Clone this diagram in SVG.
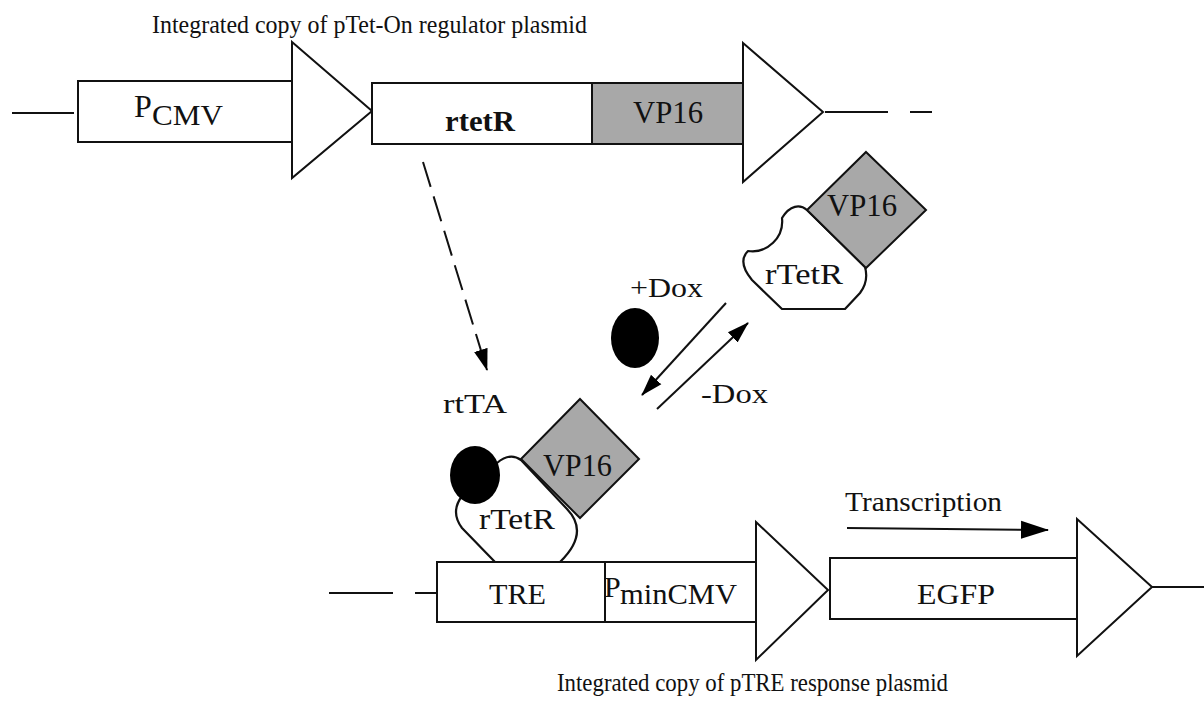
<svg xmlns="http://www.w3.org/2000/svg" width="1204" height="702" viewBox="0 0 1204 702">
<defs>
<style>
.t{font-family:"Liberation Serif","DejaVu Serif",serif;fill:#111;}
.box{fill:#fff;stroke:#111;stroke-width:2;}
.gray{fill:#a8a8a8;stroke:#111;stroke-width:2;}
.tri{fill:#fff;stroke:#111;stroke-width:2;stroke-linejoin:miter;}
.ln{fill:none;stroke:#111;stroke-width:2;}
.prot{fill:#fff;stroke:#111;stroke-width:2.2;stroke-linejoin:round;}
.dox{fill:#000;}
</style>
<marker id="ah" markerUnits="userSpaceOnUse" markerWidth="22" markerHeight="16" refX="21" refY="8" orient="auto">
<path d="M0,1 L22,8 L0,15 Z" fill="#000"/>
</marker>
<marker id="ahT" markerUnits="userSpaceOnUse" markerWidth="28" markerHeight="20" refX="27" refY="10" orient="auto">
<path d="M0,1 L28,10 L0,19 Z" fill="#000"/>
</marker>
</defs>
<rect width="1204" height="702" fill="#fff"/>

<text class="t" x="152" y="33" font-size="26" textLength="435" lengthAdjust="spacingAndGlyphs">Integrated copy of pTet-On regulator plasmid</text>
<text class="t" x="557" y="691" font-size="26" textLength="391" lengthAdjust="spacingAndGlyphs">Integrated copy of pTRE response plasmid</text>

<g id="connectors">
<line class="ln" x1="12" y1="113" x2="74" y2="113"/>
<line class="ln" x1="825" y1="112" x2="888" y2="112"/>
<line class="ln" x1="910" y1="112" x2="932" y2="112"/>
<line class="ln" x1="329" y1="593" x2="393" y2="593"/>
<line class="ln" x1="415" y1="593" x2="437" y2="593"/>
<line class="ln" x1="1152" y1="587" x2="1204" y2="587"/>
<line class="ln" x1="423" y1="162" x2="487" y2="370" stroke-dasharray="26 10" marker-end="url(#ah)"/>
<line class="ln" x1="726" y1="303" x2="642" y2="395" marker-end="url(#ah)"/>
<line class="ln" x1="657" y1="409" x2="748" y2="323" marker-end="url(#ah)"/>
<line class="ln" x1="847" y1="528" x2="1048" y2="530" marker-end="url(#ahT)"/>
</g>

<g id="pcmv">
<rect class="box" x="78" y="81" width="214" height="61"/>
<text class="t" x="134" y="117" font-size="32">P</text>
<text class="t" x="152" y="125" font-size="29" textLength="71" lengthAdjust="spacingAndGlyphs">CMV</text>
</g>
<g id="pcmv-arrow">
<polygon class="tri" points="292,42 372,111 292,178"/>
</g>
<g id="rtetr">
<rect class="box" x="372" y="83" width="220" height="61"/>
<text class="t" x="445" y="131" font-size="30" font-weight="bold" textLength="70" lengthAdjust="spacingAndGlyphs">rtetR</text>
</g>
<g id="vp16-gene">
<rect class="gray" x="592" y="83" width="151" height="61"/>
<text class="t" x="633" y="123" font-size="32" textLength="70" lengthAdjust="spacingAndGlyphs">VP16</text>
</g>
<g id="vp16-arrow">
<polygon class="tri" points="743,43 823,112 743,182"/>
</g>

<g id="free-rtta">
<path class="prot" d="M807,210 C800,204 790,205 782,218 A30,30 0 0 1 748,251 Q737,262 752,280 L782,309 L845,309 L860,293 Q869,281 865,267 Z"/>
<text class="t" x="765" y="284" font-size="30" textLength="78" lengthAdjust="spacingAndGlyphs">rTetR</text>
<polygon class="gray" points="866,152 926,210 866,268 807,210"/>
<text class="t" x="827" y="216" font-size="32" textLength="70" lengthAdjust="spacingAndGlyphs">VP16</text>
</g>

<g id="dox-free">
<ellipse class="dox" cx="635" cy="338" rx="24" ry="30"/>
</g>
<text class="t" x="630" y="297" font-size="28" textLength="73" lengthAdjust="spacingAndGlyphs">+Dox</text>
<text class="t" x="701" y="403" font-size="28" textLength="67" lengthAdjust="spacingAndGlyphs">-Dox</text>

<text class="t" x="443" y="413" font-size="28" textLength="64" lengthAdjust="spacingAndGlyphs">rtTA</text>

<g id="bound-rtta">
<path class="prot" d="M495,562 L462,528 Q450,512 462,496 L497,463 Q510,452 521,460 L567,509 Q590,533 560,562"/>
<text class="t" x="479" y="529" font-size="30" textLength="76" lengthAdjust="spacingAndGlyphs">rTetR</text>
<polygon class="gray" points="580,399 639,459 580,518 521,459"/>
<text class="t" x="543" y="476" font-size="32" textLength="69" lengthAdjust="spacingAndGlyphs">VP16</text>
<ellipse class="dox" cx="475" cy="475" rx="25" ry="29"/>
</g>

<g id="tre">
<rect class="box" x="437" y="562" width="168" height="60"/>
<text class="t" x="489" y="604" font-size="30" textLength="57" lengthAdjust="spacingAndGlyphs">TRE</text>
</g>
<g id="pmincmv">
<rect class="box" x="605" y="562" width="151" height="60"/>
<text class="t" x="604" y="597" font-size="30">P</text>
<text class="t" x="620" y="604" font-size="29" textLength="117" lengthAdjust="spacingAndGlyphs">minCMV</text>
</g>
<g id="pmincmv-arrow">
<polygon class="tri" points="756,522 828,590 756,660"/>
</g>
<g id="egfp">
<rect class="box" x="830" y="558" width="247" height="61"/>
<text class="t" x="917" y="604" font-size="30" textLength="78" lengthAdjust="spacingAndGlyphs">EGFP</text>
</g>
<g id="egfp-arrow">
<polygon class="tri" points="1077,519 1152,587 1077,656"/>
</g>
<text class="t" x="845" y="511" font-size="27" textLength="157" lengthAdjust="spacingAndGlyphs">Transcription</text>
</svg>
